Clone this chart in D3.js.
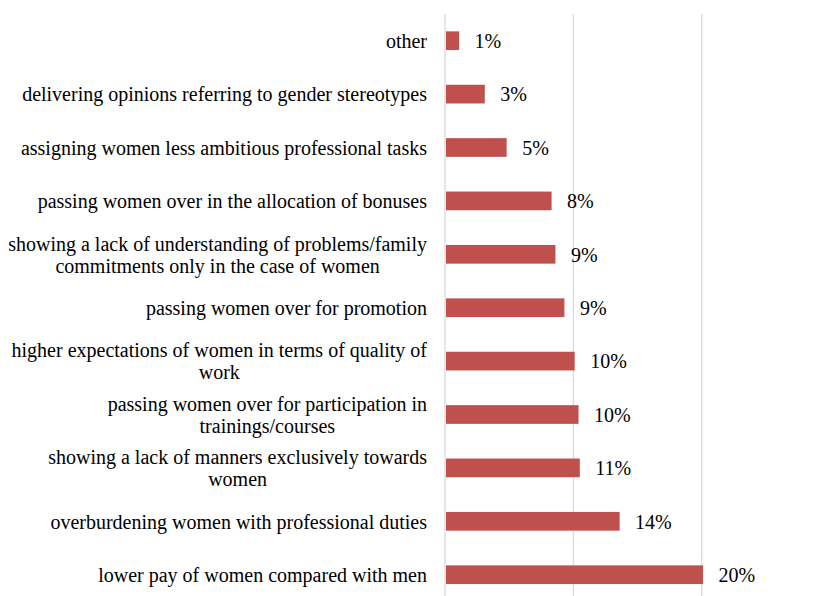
<!DOCTYPE html>
<html>
<head>
<meta charset="utf-8">
<script src="https://cdn.jsdelivr.net/npm/d3@7"></script>
<style>
  html, body { margin: 0; padding: 0; background: #fff; }
  svg text { font-family: "Liberation Serif", "Times New Roman", serif; fill: #000; }
</style>
</head>
<body>
<svg id="chart" width="819" height="596"></svg>
<script>
// Category labels, top to bottom; each entry lists the lines of the label
const categories = [
  ["other"],
  ["delivering opinions referring to gender stereotypes"],
  ["assigning women less ambitious professional tasks"],
  ["passing women over in the allocation of bonuses"],
  ["showing a lack of understanding of problems/family", "commitments only in the case of women"],
  ["passing women over for promotion"],
  ["higher expectations of women in terms of quality of", "work"],
  ["passing women over for participation in", "trainings/courses"],
  ["showing a lack of manners exclusively towards", "women"],
  ["overburdening women with professional duties"],
  ["lower pay of women compared with men"]
];

// Share of respondents (%)
const values = [1.1, 3.1, 4.8, 8.3, 8.6, 9.3, 10.1, 10.4, 10.5, 13.6, 20.1];

// Vertical gridline positions (%)
const gridTicks = [0, 10, 20];

const svg = d3.select("#chart");
const fontSize = 20;
const lineHeight = 22;

const x = d3.scaleLinear().domain([0, 20]).range([445, 701.8]);
const y = d3.scaleBand()
  .domain(d3.range(categories.length))
  .range([14, 14 + 53.4 * categories.length])
  .paddingInner(0.65)
  .paddingOuter(0.325);

// Gridlines (including the zero line)
svg.append("g")
  .selectAll("line")
  .data(gridTicks)
  .join("line")
  .attr("x1", d => x(d)).attr("x2", d => x(d))
  .attr("y1", 14).attr("y2", 596)
  .attr("stroke", "#d9d9d9")
  .attr("stroke-width", 1.3);

// Bars
svg.append("g")
  .selectAll("rect")
  .data(values)
  .join("rect")
  .attr("x", x(0) + 1)
  .attr("y", (d, i) => y(i))
  .attr("width", d => x(d) - x(0) - 1)
  .attr("height", y.bandwidth())
  .attr("fill", "#c0504d");

// Value labels
svg.append("g")
  .selectAll("text")
  .data(values)
  .join("text")
  .attr("x", d => x(d) + 15.5)
  .attr("y", (d, i) => y(i) + y.bandwidth() / 2)
  .attr("dy", "0.36em")
  .attr("font-size", fontSize)
  .text(d => Math.round(d) + "%");

// Category labels: block right-aligned to the axis, lines centred within the block
const labelRight = 427;
const labelGroups = svg.append("g")
  .selectAll("g")
  .data(categories)
  .join("g");

labelGroups.each(function (lines, i) {
  const g = d3.select(this);
  const cy = y(i) + y.bandwidth() / 2;
  const texts = g.selectAll("text")
    .data(lines)
    .join("text")
    .attr("font-size", fontSize)
    .attr("text-anchor", "middle")
    .attr("y", (d, k) => cy + (k - (lines.length - 1) / 2) * lineHeight)
    .attr("dy", "0.36em")
    .text(d => d);
  let maxW = 0;
  texts.each(function () { maxW = Math.max(maxW, this.getComputedTextLength()); });
  texts.attr("x", labelRight - maxW / 2);
});
</script>
</body>
</html>
